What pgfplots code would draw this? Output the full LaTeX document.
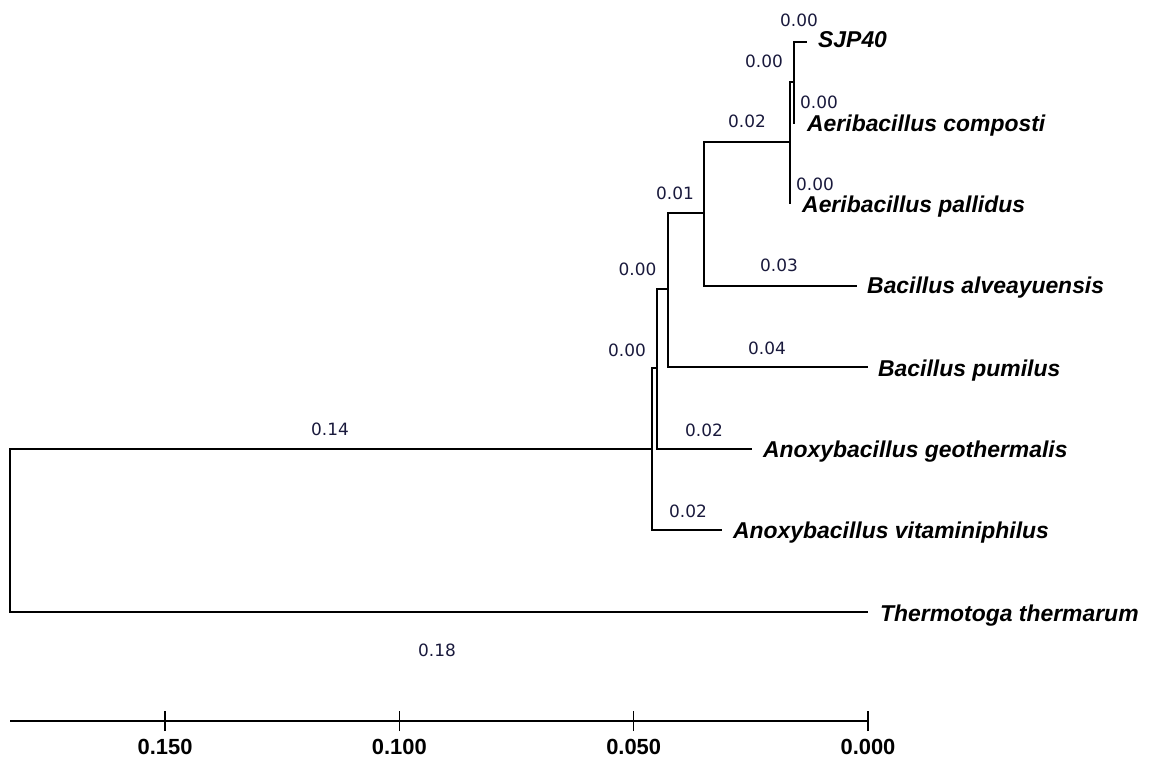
\documentclass[border=0pt]{standalone}
\usepackage{fontspec}
\setmainfont{Liberation Sans}
\newfontfamily\dejavu{DejaVu Sans}
\usepackage{pgfplots}
\pgfplotsset{compat=1.18}
\definecolor{numcol}{RGB}{25,25,60}
\begin{document}
\begin{tikzpicture}
\begin{axis}[
  scale only axis, width=858bp, height=721bp,
  xmin=0, xmax=0.18310, x dir=reverse,
  ymin=-721, ymax=0,
  axis x line*=bottom, axis y line=none,
  clip=false,
  xtick={0,0.05,0.1,0.15},
  xticklabels={0.000,0.050,0.100,0.150},
  xticklabel style={font=\bfseries\fontsize{22}{26}\selectfont, inner sep=0pt, yshift=-8bp},
  major tick length=20bp, tick align=center,
  every tick/.style={black, line width=1.2bp},
  axis line style={line width=1.2bp},
  tree/.style={black, solid, line width=1.3bp, mark=none},
]
% tree brackets (x = distance, y = -pixel row)
\addplot[tree] coordinates {(0,-612) (0.18310,-612) (0.18310,-449) (0.04610,-449)};
\addplot[tree] coordinates {(0.04503,-368) (0.04610,-368) (0.04610,-530) (0.03116,-530)};
\addplot[tree] coordinates {(0.04268,-289) (0.04503,-289) (0.04503,-449) (0.02475,-449)};
\addplot[tree] coordinates {(0.03500,-213) (0.04268,-213) (0.04268,-367) (0,-367)};
\addplot[tree] coordinates {(0.01665,-142) (0.03500,-142) (0.03500,-286) (0.00235,-286)};
\addplot[tree] coordinates {(0.01579,-82) (0.01665,-82) (0.01665,-204)};
\addplot[tree] coordinates {(0.01302,-42) (0.01579,-42) (0.01579,-123) (0.01558,-123)};
% branch lengths
\begin{scope}[every node/.style={anchor=base, inner sep=0pt, text=numcol, font=\dejavu\fontsize{17}{20}\selectfont}]
\node at (axis cs:0.01472,-27) {0.00};
\node at (axis cs:0.02219,-68) {0.00};
\node at (axis cs:0.01046,-109) {0.00};
\node at (axis cs:0.02582,-128) {0.02};
\node at (axis cs:0.01131,-191) {0.00};
\node at (axis cs:0.04119,-200) {0.01};
\node at (axis cs:0.01899,-272) {0.03};
\node at (axis cs:0.04919,-276) {0.00};
\node at (axis cs:0.02155,-354) {0.04};
\node at (axis cs:0.05143,-356) {0.00};
\node at (axis cs:0.03500,-436) {0.02};
\node at (axis cs:0.03841,-517) {0.02};
\node at (axis cs:0.11481,-435) {0.14};
\node at (axis cs:0.09198,-656) {0.18};
\end{scope}
% taxa
\begin{scope}[every node/.style={anchor=base west, inner sep=0pt, font=\bfseries\itshape\fontsize{23}{27}\selectfont}]
\node at (axis cs:0.01067,-48) {SJP40};
\node at (axis cs:0.01302,-132) {Aeribacillus composti};
\node at (axis cs:0.01408,-213) {Aeribacillus pallidus};
\node at (axis cs:0.00021,-294) {Bacillus alveayuensis};
\node at (axis cs:-0.00213,-376) {Bacillus pumilus};
\node at (axis cs:0.02241,-457) {Anoxybacillus geothermalis};
\node at (axis cs:0.02881,-538) {Anoxybacillus vitaminiphilus};
\node at (axis cs:-0.00256,-621) {Thermotoga thermarum};
\end{scope}
\path (axis cs:0.18523,0) rectangle (axis cs:-0.06018,-760);
\end{axis}
\end{tikzpicture}
\end{document}
